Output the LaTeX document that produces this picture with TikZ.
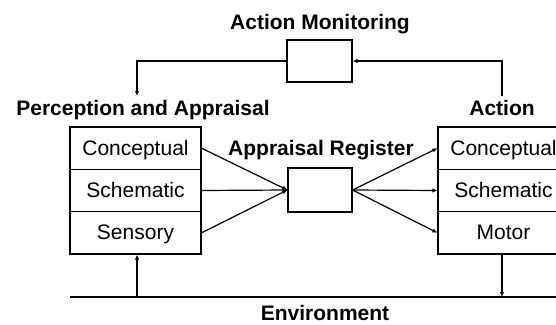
\documentclass[tikz,border=0pt]{standalone}
\usepackage{fontspec}
\setmainfont{Liberation Sans}
\usetikzlibrary{arrows.meta}
\begin{document}
\begin{tikzpicture}[x=1pt,y=-1pt,
  line width=1.2pt,
  font=\fontsize{21}{24}\selectfont,
  tip/.style={-{Latex[length=5pt,width=4.5pt]}},
  row/.style={draw,minimum width=131pt,minimum height=42.33pt,inner sep=0pt,
    text height=15pt,text depth=1pt,anchor=center},
  plainbox/.style={draw,inner sep=0pt},
  title/.style={font=\fontsize{21}{24}\selectfont\bfseries,anchor=base,inner sep=0pt}]
\useasboundingbox (0,0) rectangle (556,324);
\clip (0,0) rectangle (556,324);

% headings
\node[title] (amon) at (320,29) {Action Monitoring};
\node[title] (perc) at (143,115) {Perception and Appraisal};
\node[title] (act)  at (502,115) {Action};
\node[title] (areg) at (321,155) {Appraisal Register};
\node[title] (env)  at (325,320) {Environment};

% perception and appraisal stack
\node[row] (lc)   at (135.5,148.2) {Conceptual};
\node[row] (ls)   at (135.5,190.5) {Schematic};
\node[row] (lsen) at (135.5,232.8) {Sensory};

% action stack
\node[row] (rc) at (503.5,148.2) {Conceptual};
\node[row] (rs) at (503.5,190.5) {Schematic};
\node[row] (rm) at (503.5,232.8) {Motor};

% appraisal register and action monitoring boxes
\node[plainbox,minimum width=64pt,minimum height=44pt] (reg) at (320,190) {};
\node[plainbox,minimum width=65pt,minimum height=42pt] (mon) at (319.5,61) {};

% environment line
\coordinate (envL) at (70,297);
\coordinate (envR) at (560,297);
\draw (envL) -- (envR);

% perception feeds the register
\draw[tip] (lc.east)   -- (reg.west);
\draw[tip] (ls.east)   -- (reg.west);
\draw[tip] (lsen.east) -- (reg.west);

% register feeds action
\draw[tip] (reg.east) -- (rc.west);
\draw[tip] (reg.east) -- (rs.west);
\draw[tip] (reg.east) -- (rm.west);

% environment loop
\draw[tip] ([xshift=1.5pt]lsen.south |- envL) -- ([xshift=1.5pt]lsen.south);
\draw[tip] ([xshift=-1.5pt]rm.south) -- ([xshift=-1.5pt]rm.south |- envL);

% monitoring loop
\coordinate (actTop) at (502,96);
\coordinate (percTop) at (137,96);
\draw[tip] (actTop) |- (mon.east);
\draw[tip] (mon.west) -| (percTop);
\end{tikzpicture}
\end{document}
